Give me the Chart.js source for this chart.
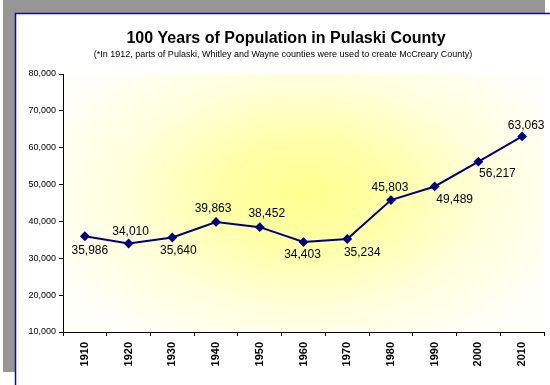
<!DOCTYPE html>
<html>
<head>
<meta charset="utf-8">
<title>Pulaski County Population</title>
<script src="https://cdn.jsdelivr.net/npm/chart.js@4.4.1/dist/chart.umd.min.js"></script>
<style>
  html, body { margin: 0; padding: 0; background: #fff; }
  #wrap { position: relative; width: 550px; height: 385px; }
</style>
</head>
<body>
<div id="wrap"><canvas id="popChart" width="550" height="385"></canvas></div>
<script>
var years = ['1910', '1920', '1930', '1940', '1950', '1960', '1970', '1980', '1990', '2000', '2010'];
var population = [35986, 34010, 35640, 39863, 38452, 34403, 35234, 45803, 49489, 56217, 63063];
var yMin = 10000;
var yMax = 80000;
var yStep = 10000;

var titleText = '100 Years of Population in Pulaski County';
var subtitleText = '(*In 1912, parts of Pulaski, Whitley and Wayne counties were used to create McCreary County)';

// grey shadow, white panel with blue edge, and the yellow glow inside the plot area
var backdrop = {
    id: 'backdrop',
    beforeDraw: function (chart) {
        var c = chart.ctx;
        var a = chart.chartArea;
        c.save();
        c.fillStyle = '#fff';
        c.fillRect(0, 0, chart.width, chart.height);
        c.fillStyle = '#969696';
        c.fillRect(3, 0, 542, 372);
        c.fillStyle = '#fff';
        c.fillRect(15, 13, chart.width - 15, chart.height - 13);
        c.strokeStyle = '#0000ff';
        c.lineWidth = 1.5;
        c.beginPath();
        c.moveTo(15.5, chart.height);
        c.lineTo(15.5, 13.5);
        c.lineTo(chart.width, 13.5);
        c.stroke();

        var cx = 305, cy = 195;
        c.beginPath();
        c.rect(a.left, a.top, a.right - a.left, a.bottom - a.top);
        c.clip();
        c.translate(cx, cy);
        c.scale(1.6, 1);
        var g = c.createRadialGradient(0, 0, 0, 0, 0, 175);
        g.addColorStop(0, '#ffff90');
        g.addColorStop(0.3, '#ffffa8');
        g.addColorStop(0.65, '#ffffdc');
        g.addColorStop(1, '#fffffa');
        c.fillStyle = g;
        c.fillRect(-200, -150, 400, 300);
        c.restore();
    },
    afterDraw: function (chart) {
        var c = chart.ctx;
        c.save();
        c.fillStyle = '#000';
        c.textAlign = 'center';
        c.textBaseline = 'middle';
        c.font = 'bold 16px "Liberation Sans", Arial, sans-serif';
        c.fillText(titleText, 286, 39);
        c.font = '9px "Liberation Sans", Arial, sans-serif';
        c.fillText(subtitleText, 283, 55);
        c.restore();
    }
};

// value labels next to each point; [dx, dy] from the point centre
var valueLabels = {
    id: 'valueLabels',
    afterDatasetsDraw: function (chart) {
        var spots = [[5, 14], [2, -12], [6, 13], [-3, -13], [7, -13], [-1, 13],
                     [15, 14], [-1, -12], [20, 13], [19, 12], [4, -11]];
        var c = chart.ctx;
        var pts = chart.getDatasetMeta(0).data;
        c.save();
        c.font = '12px "Liberation Sans", Arial, sans-serif';
        c.fillStyle = '#000';
        c.textAlign = 'center';
        c.textBaseline = 'middle';
        pts.forEach(function (p, i) {
            var v = chart.data.datasets[0].data[i];
            c.fillText(v.toLocaleString('en-US'), p.x + spots[i][0], p.y + spots[i][1]);
        });
        c.restore();
    }
};

var ctx = document.getElementById('popChart').getContext('2d');
var popChart = new Chart(ctx, {
    type: 'line',
    data: {
        labels: years,
        datasets: [{
            label: 'Population',
            data: population,
            borderColor: '#000080',
            backgroundColor: '#000080',
            borderWidth: 2,
            pointStyle: 'rectRot',
            pointRadius: 3.5,
            pointBackgroundColor: '#000080',
            pointBorderColor: '#000080',
            tension: 0
        }]
    },
    options: {
        responsive: false,
        animation: false,
        devicePixelRatio: 1,
        layout: { padding: { top: 74, right: 1, left: 0, bottom: 0 } },
        plugins: {
            legend: { display: false },
            title: { display: false },
            tooltip: { enabled: false }
        },
        scales: {
            x: {
                type: 'category',
                offset: true,
                afterFit: function (scale) { scale.height = 53; },
                grid: {
                    offset: true,
                    drawOnChartArea: false,
                    tickLength: 4,
                    color: '#000'
                },
                border: { color: '#000', width: 1 },
                ticks: {
                    minRotation: 90,
                    maxRotation: 90,
                    padding: 6,
                    color: '#000',
                    font: { family: '"Liberation Sans", Arial, sans-serif', size: 11, weight: 'bold' }
                }
            },
            y: {
                min: yMin,
                max: yMax,
                afterFit: function (scale) { scale.width = 63; },
                grid: {
                    drawOnChartArea: false,
                    tickLength: 4,
                    color: '#000'
                },
                border: { color: '#000', width: 1 },
                ticks: {
                    stepSize: yStep,
                    padding: 3,
                    color: '#000',
                    font: { family: '"Liberation Sans", Arial, sans-serif', size: 9 },
                    callback: function (v) { return v.toLocaleString('en-US'); }
                }
            }
        }
    },
    plugins: [backdrop, valueLabels]
});
</script>
</body>
</html>
